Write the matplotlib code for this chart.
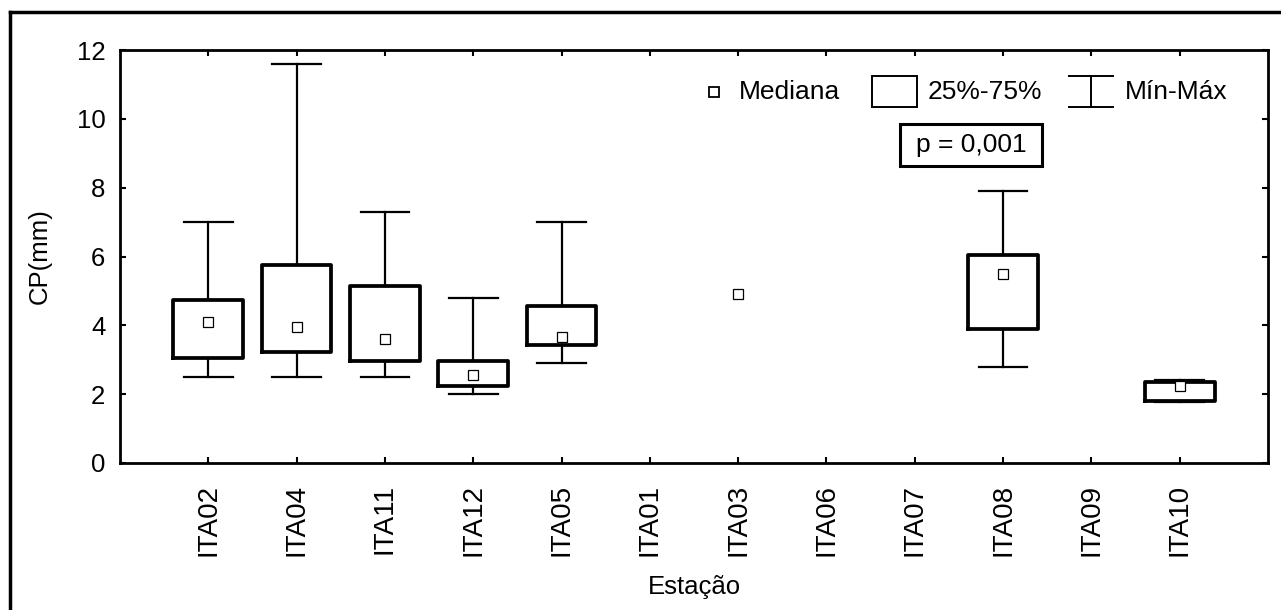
import numpy as np
import matplotlib
matplotlib.use("Agg")
import matplotlib.pyplot as plt
from matplotlib.lines import Line2D
from matplotlib.patches import Rectangle

plt.rcParams['font.family'] = ['Liberation Sans', 'DejaVu Sans']

# Stations along the x axis
stations = ["ITA02", "ITA04", "ITA11", "ITA12", "ITA05", "ITA01",
            "ITA03", "ITA06", "ITA07", "ITA08", "ITA09", "ITA10"]

# CP (mm) summary per station (nan = no data)
nan = np.nan
cp_min = [2.5, 2.5, 2.5, 2.0, 2.9, nan, nan, nan, nan, 2.8, nan, 1.78]
cp_q1 = [3.05, 3.22, 2.95, 2.25, 3.42, nan, nan, nan, nan, 3.9, nan, 1.8]
cp_median = [4.1, 3.95, 3.6, 2.55, 3.65, nan, 4.9, nan, nan, 5.5, nan, 2.25]
cp_q3 = [4.75, 5.75, 5.15, 2.95, 4.55, nan, nan, nan, nan, 6.05, nan, 2.35]
cp_max = [7.0, 11.6, 7.3, 4.8, 7.0, nan, nan, nan, nan, 7.9, nan, 2.4]

y_ticks = [0, 2, 4, 6, 8, 10, 12]
p_text = "p = 0,001"

W, H = 1281, 610
fig = plt.figure(figsize=(W / 100, H / 100), dpi=100)
ax = fig.add_axes([120 / W, 1 - 463 / H, (1268 - 120) / W, (463 - 50) / H])

positions = np.arange(1, len(stations) + 1)

stats, stat_pos = [], []
for i, p in enumerate(positions):
    if not np.isnan(cp_q1[i]):
        stats.append(dict(med=cp_median[i], q1=cp_q1[i], q3=cp_q3[i],
                          whislo=cp_min[i], whishi=cp_max[i], fliers=[]))
        stat_pos.append(p)

ax.bxp(stats, positions=stat_pos, widths=0.79, capwidths=0.55,
       showfliers=False, manage_ticks=False,
       boxprops=dict(color="black", linewidth=2.7),
       whiskerprops=dict(color="black", linewidth=1.6),
       capprops=dict(color="black", linewidth=1.6),
       medianprops=dict(visible=False))

ax.plot(positions, cp_median, linestyle="none", marker="s", markersize=7.8,
        markerfacecolor="white", markeredgecolor="black",
        markeredgewidth=0.9, zorder=5)

ax.set_xlim(0, len(stations) + 1)
ax.set_ylim(0, 12)
ax.set_xticks(positions)
ax.set_xticklabels(stations, rotation=90)
ax.set_yticks(y_ticks)
ax.set_yticklabels([str(t) for t in y_ticks])

for s in ax.spines.values():
    s.set_linewidth(2.0)
ax.tick_params(direction="in", length=4, width=1.5, top=True, right=True)
ax.tick_params(axis="x", pad=15, labelsize=20)
ax.tick_params(axis="y", pad=10.5, labelsize=18.5)

ax.set_xlabel("Estação", fontsize=18.5)
ax.xaxis.set_label_coords(0.5, (463 - 587) / 413)
ax.xaxis.label.set_va("center")
ax.set_ylabel("CP(mm)", fontsize=18.5)
ax.yaxis.set_label_coords((40 - 120) / 1148, 0.5)
ax.yaxis.label.set_va("center")
ax.yaxis.label.set_ha("center")


def fx(x):
    return x / W


def fy(y):
    return 1 - y / H


tf = fig.transFigure

# Legend row
fig.add_artist(Line2D([fx(714)], [fy(92)], marker="s", markersize=7,
                      markerfacecolor="white", markeredgecolor="black",
                      markeredgewidth=1.3, linestyle="none", transform=tf))
fig.text(fx(739), fy(92), "Mediana", fontsize=19, va="center", ha="left")
fig.add_artist(Rectangle((fx(872), fy(107)), fx(917) - fx(872), fy(76) - fy(107),
                         fill=False, edgecolor="black", linewidth=1.4, transform=tf))
fig.text(fx(928), fy(92), "25%-75%", fontsize=19, va="center", ha="left")
for seg in ([(1069, 76), (1113, 76)], [(1069, 107), (1113, 107)],
            [(1091, 76), (1091, 107)]):
    fig.add_artist(Line2D([fx(seg[0][0]), fx(seg[1][0])],
                          [fy(seg[0][1]), fy(seg[1][1])],
                          color="black", linewidth=1.4, transform=tf))
fig.text(fx(1125), fy(92), "Mín-Máx", fontsize=19, va="center", ha="left")

# Test result box
fig.add_artist(Rectangle((fx(900), fy(166)), fx(1042) - fx(900), fy(124) - fy(166),
                         facecolor="white", edgecolor="black", linewidth=2.2,
                         transform=tf))
fig.text(fx(971), fy(145), p_text, fontsize=19, va="center", ha="center")

# Outer frame
fig.add_artist(Line2D([fx(10), 1.0], [fy(11.5), fy(11.5)], color="black",
                      linewidth=2.5, transform=tf, solid_capstyle="projecting"))
fig.add_artist(Line2D([fx(10), fx(10)], [0.0, fy(11.5)], color="black",
                      linewidth=2.5, transform=tf, solid_capstyle="projecting"))

fig.savefig("out.png", dpi=100)
